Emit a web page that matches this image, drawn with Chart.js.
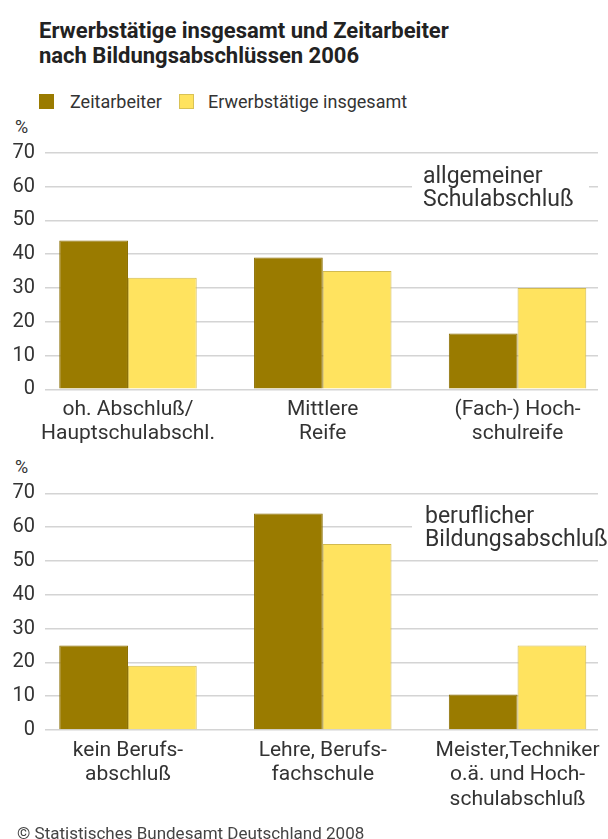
<!DOCTYPE html>
<html>
<head>
<meta charset="utf-8">
<script src="https://cdn.jsdelivr.net/npm/chart.js@4"></script>
<style>
  body { margin: 0; background: #fff; font-family: Roboto, sans-serif; color: #333; }
  #page { position: relative; width: 608px; height: 839px; overflow: hidden; }
  .abs { position: absolute; white-space: nowrap; }
  .title { left: 39px; top: 18px; font-size: 22px; font-weight: 700; line-height: 25px; color: #222; }
  .sw { width: 15px; height: 15px; top: 94px; }
  .leg { top: 91.5px; font-size: 18px; line-height: 20px; }
  .pct { left: 15px; font-size: 18px; line-height: 20px; }
  .note { background: #fff; font-size: 23px; line-height: 23px; }
  canvas { position: absolute; left: 0; }
</style>
</head>
<body>
<div id="page">
  <div class="abs title">Erwerbstätige insgesamt und Zeitarbeiter<br>nach Bildungsabschlüssen 2006</div>
  <div class="abs sw" style="left:39px;background:#9a7b00"></div>
  <div class="abs leg" style="left:70px">Zeitarbeiter</div>
  <div class="abs sw" style="left:179px;background:#ffe35f;box-shadow:inset 0 0 0 1px #d9c255"></div>
  <div class="abs leg" style="left:208px">Erwerbstätige insgesamt</div>

  <div class="abs pct" style="top:117px">%</div>
  <canvas id="chartTop" width="608" height="340" style="top:110px"></canvas>
  <div class="abs note" style="left:412px;top:163.5px;width:166px;padding-left:11px">allgemeiner<br>Schulabschluß</div>

  <div class="abs pct" style="top:457px">%</div>
  <canvas id="chartBottom" width="608" height="399" style="top:440px"></canvas>
  <div class="abs note" style="left:412px;top:503.5px;width:183px;padding-left:13px">beruflicher<br>Bildungsabschluß</div>

  <div class="abs" style="left:17px;top:823px;font-size:17px;line-height:20px;color:#444">© Statistisches Bundesamt Deutschland 2008</div>
</div>

<script>
// allgemeiner Schulabschluss
const labelsTop = [['oh. Abschluß/', 'Hauptschulabschl.'], ['Mittlere', 'Reife'], ['(Fach-) Hoch-', 'schulreife']];
const zeitTop = [44, 39, 16.5];
const erwTop = [33, 35, 30];

// beruflicher Bildungsabschluss
const labelsBottom = [['kein Berufs-', 'abschluß'], ['Lehre, Berufs-', 'fachschule'], ['Meister,Techniker', 'o.ä. und Hoch-', 'schulabschluß']];
const zeitBottom = [25, 64, 10.5];
const erwBottom = [19, 55, 25];

const yTicks = [0, 10, 20, 30, 40, 50, 60, 70];

const DARK = '#9a7b00';
const LIGHT = '#ffe35f';

function makeChart(id, labels, zeit, erw, padTop, axisHeight) {
    const ctx = document.getElementById(id).getContext('2d');
    return new Chart(ctx, {
        type: 'bar',
        data: {
            datasets: [
                {
                    label: 'Zeitarbeiter',
                    data: zeit.map((v, i) => ({ x: i, y: v })),
                    backgroundColor: DARK,
                    borderColor: '#8a6e00',
                    borderWidth: 1,
                    borderSkipped: 'bottom'
                },
                {
                    label: 'Erwerbstätige insgesamt',
                    data: erw.map((v, i) => ({ x: i, y: v })),
                    backgroundColor: LIGHT,
                    borderColor: '#d2ba50',
                    borderWidth: 1,
                    borderSkipped: 'bottom'
                }
            ]
        },
        options: {
            responsive: false,
            animation: false,
            devicePixelRatio: 1,
            categoryPercentage: 0.7057,
            barPercentage: 1,
            layout: { padding: { top: padTop, right: 10, bottom: 0, left: 0 } },
            plugins: { legend: { display: false }, tooltip: { enabled: false } },
            scales: {
                x: {
                    type: 'linear',
                    offset: false,
                    min: -0.426,
                    max: 2.413,
                    grid: { display: false, drawTicks: false, offset: false },
                    border: { display: false },
                    afterBuildTicks: s => { s.ticks = labels.map((l, i) => ({ value: i })); },
                    afterFit: s => { s.height = axisHeight; s.paddingLeft = 0; s.paddingRight = 0; },
                    ticks: {
                        autoSkip: false,
                        maxRotation: 0,
                        padding: 8,
                        color: '#333',
                        font: { family: 'Roboto', size: 21, lineHeight: '24.5px' },
                        callback: v => labels[v]
                    }
                },
                y: {
                    min: 0,
                    max: 70,
                    grid: { color: '#d4d4d4', lineWidth: 1.5, drawTicks: false },
                    border: { display: false },
                    afterBuildTicks: s => { s.ticks = yTicks.map(v => ({ value: v })); },
                    afterFit: s => { s.width = 45; },
                    ticks: {
                        padding: 10,
                        color: '#333',
                        font: { family: 'Roboto', size: 20 }
                    }
                }
            }
        }
    });
}

makeChart('chartTop', labelsTop, zeitTop, erwTop, 42.7, 60.7);
makeChart('chartBottom', labelsBottom, zeitBottom, erwBottom, 53.3, 109);
</script>
</body>
</html>
